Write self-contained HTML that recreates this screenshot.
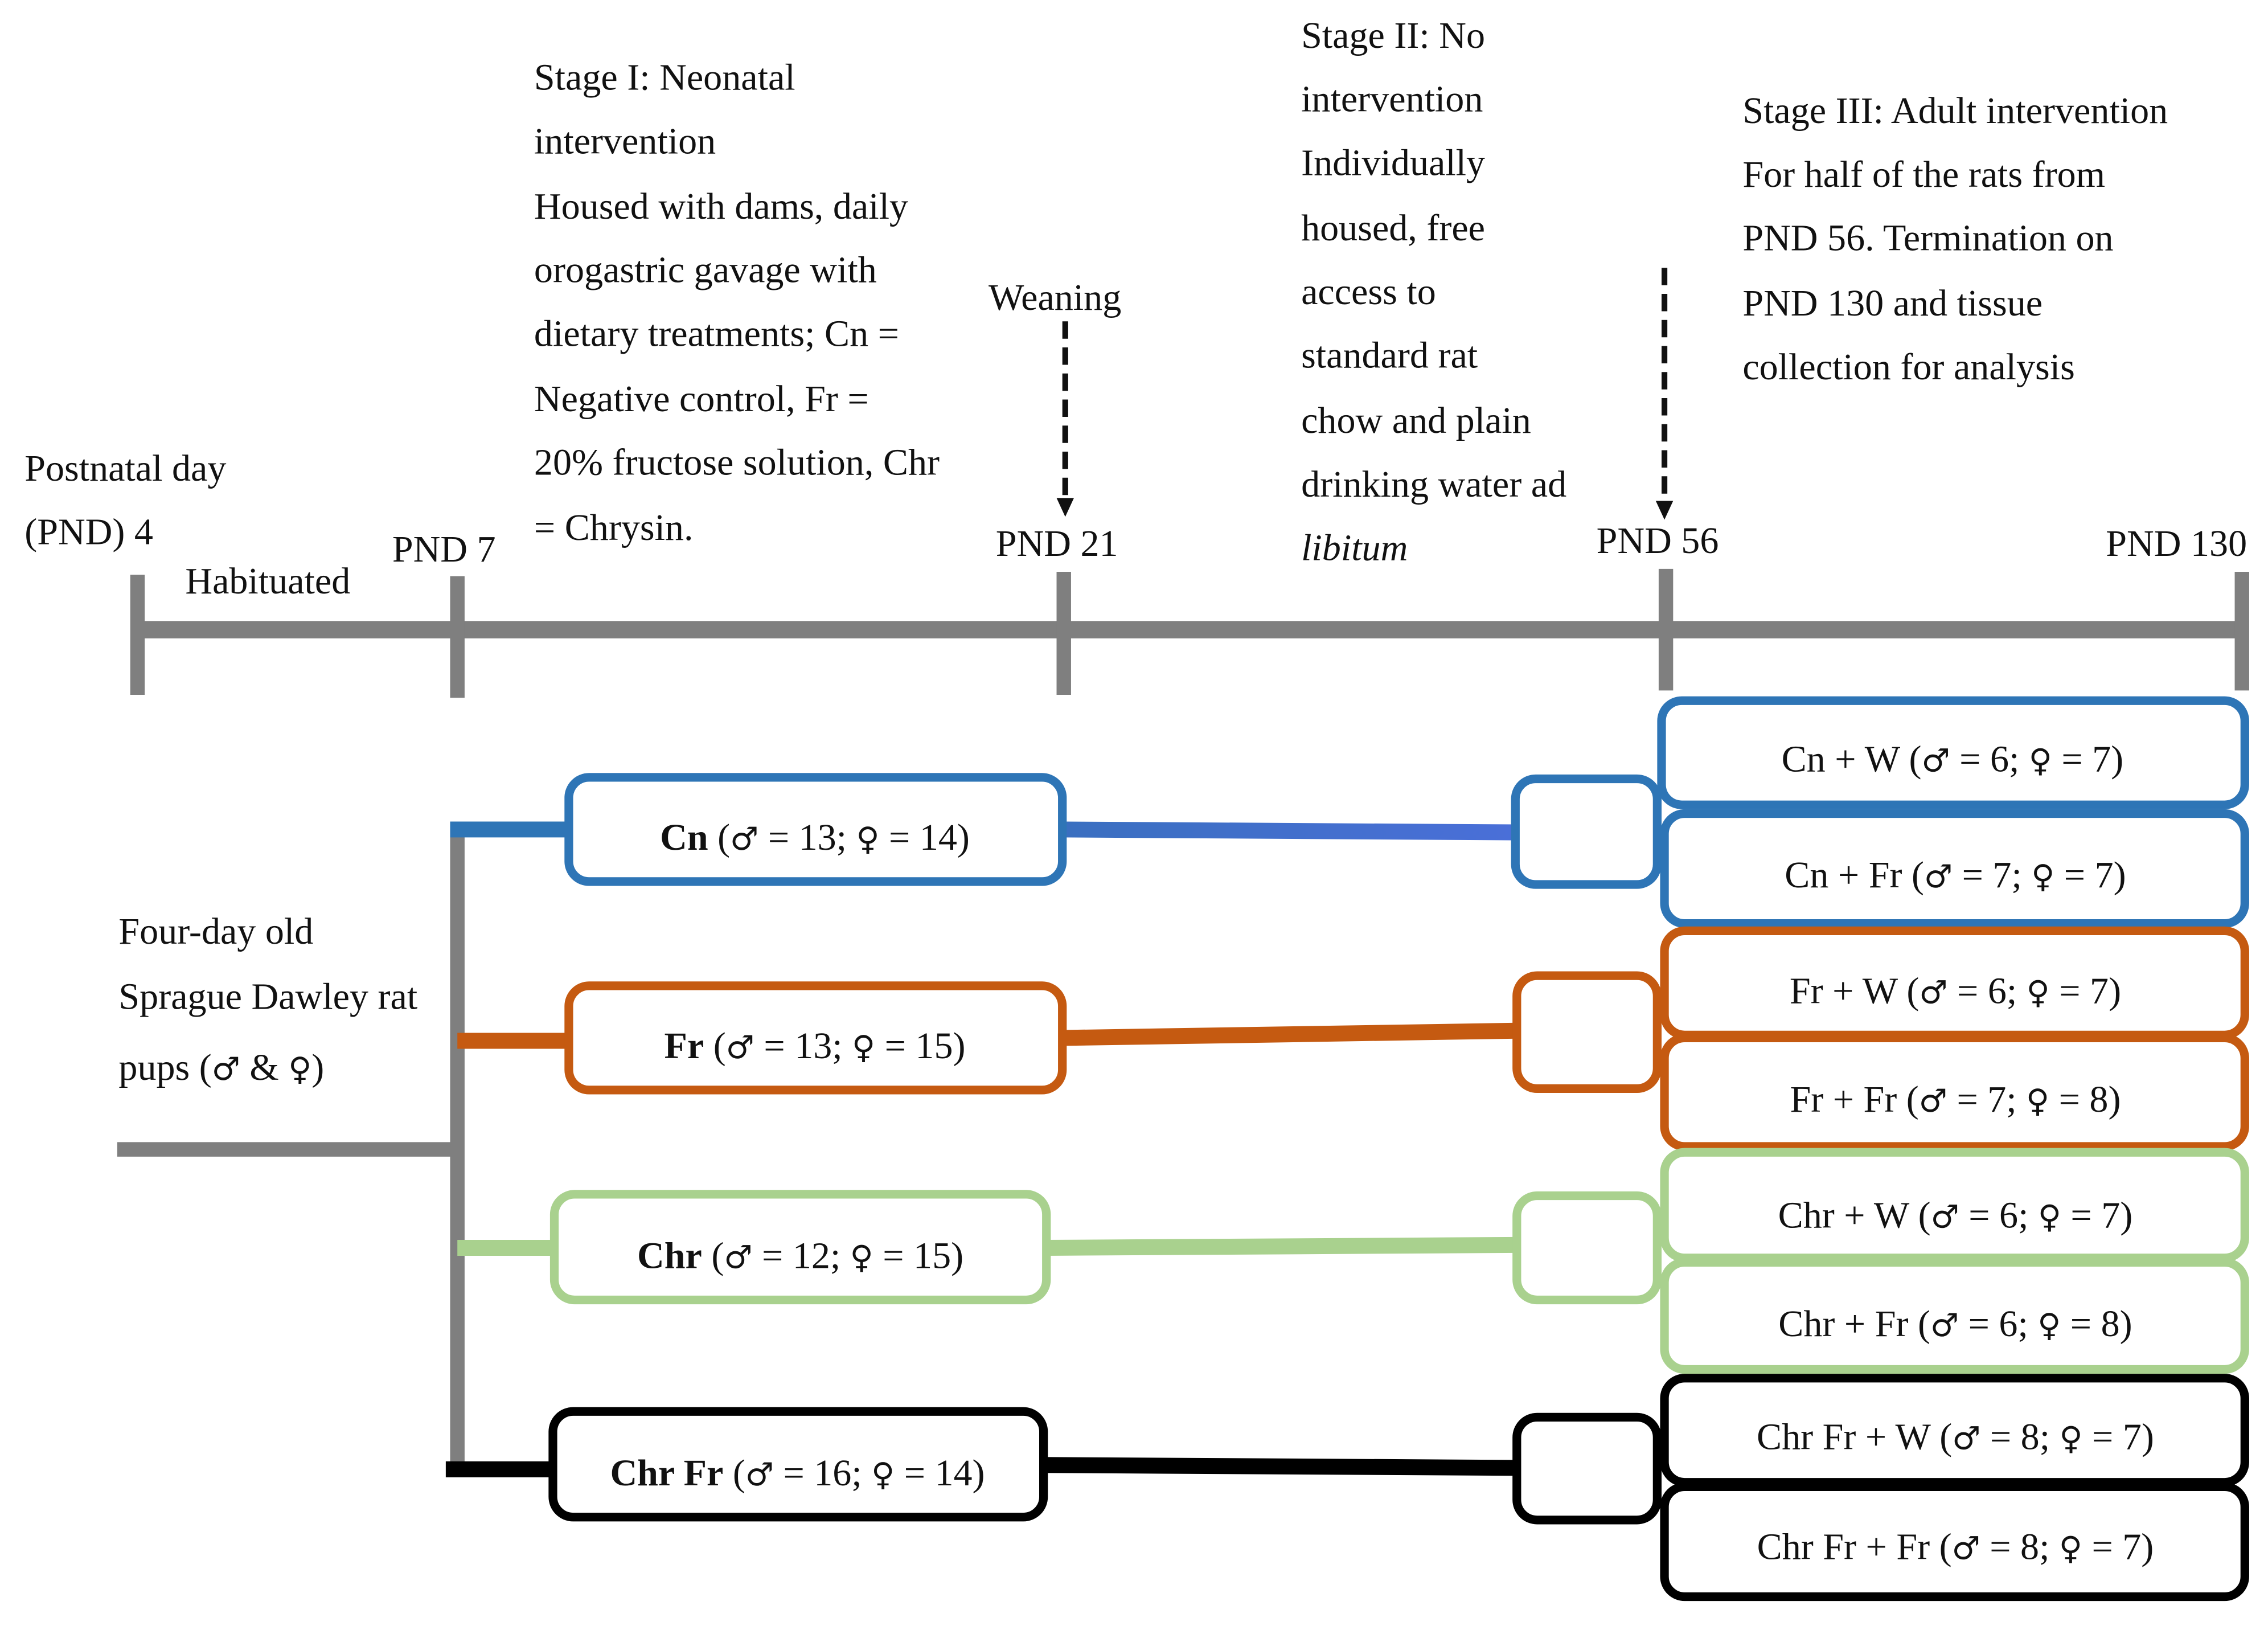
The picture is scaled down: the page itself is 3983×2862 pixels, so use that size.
<!DOCTYPE html>
<html><head><meta charset="utf-8"><style>
html,body{margin:0;padding:0;background:#fff;}
svg{display:block;}
text{font-family:"Liberation Serif","DejaVu Serif",serif;fill:#111;}
.g{font-family:"DejaVu Sans",sans-serif;font-size:22px;}
</style></head><body>
<svg width="3983" height="2862" viewBox="0 0 1567 1126" preserveAspectRatio="none" xmlns="http://www.w3.org/2000/svg">
<defs>
<linearGradient id="bg" x1="0" x2="1" y1="0" y2="0"><stop offset="0" stop-color="#3a6fc0"/><stop offset="1" stop-color="#4a6fd8"/></linearGradient>
</defs>
<!-- timeline -->
<g stroke="#7f7f7f" fill="none">
<line x1="95" y1="435" x2="1549" y2="435" stroke-width="12"/>
<line x1="95" y1="397" x2="95" y2="480" stroke-width="10"/>
<line x1="316" y1="398" x2="316" y2="482" stroke-width="10"/>
<line x1="735" y1="395" x2="735" y2="480" stroke-width="10"/>
<line x1="1151" y1="393" x2="1151" y2="477" stroke-width="10"/>
<line x1="1549" y1="395" x2="1549" y2="477" stroke-width="10"/>
<line x1="81" y1="794" x2="316" y2="794" stroke-width="10"/>
<line x1="316" y1="573" x2="316" y2="1015" stroke-width="10"/>
</g>
<g font-size="26">
<text x="17" y="332">Postnatal day</text>
<text x="17" y="376">(PND) 4</text>
<text x="128" y="410">Habituated</text>
<text x="271" y="388">PND 7</text>
<text x="688" y="384">PND 21</text>
<text x="1103" y="382">PND 56</text>
<text x="1455" y="384">PND 130</text>
<text x="683" y="214">Weaning</text>
<text x="369" y="62">Stage I: Neonatal</text>
<text x="369" y="106">intervention</text>
<text x="369" y="151">Housed with dams, daily</text>
<text x="369" y="195">orogastric gavage with</text>
<text x="369" y="239">dietary treatments; Cn =</text>
<text x="369" y="284">Negative control, Fr =</text>
<text x="369" y="328">20% fructose solution, Chr</text>
<text x="369" y="373">= Chrysin.</text>
<text x="899" y="33">Stage II: No</text>
<text x="899" y="77">intervention</text>
<text x="899" y="121">Individually</text>
<text x="899" y="166">housed, free</text>
<text x="899" y="210">access to</text>
<text x="899" y="254">standard rat</text>
<text x="899" y="299">chow and plain</text>
<text x="899" y="343">drinking water ad</text>
<text x="899" y="387" font-style="italic">libitum</text>
<text x="1204" y="85">Stage III: Adult intervention</text>
<text x="1204" y="129">For half of the rats from</text>
<text x="1204" y="173">PND 56. Termination on</text>
<text x="1204" y="218">PND 130 and tissue</text>
<text x="1204" y="262">collection for analysis</text>
<text x="82" y="652">Four-day old</text>
<text x="82" y="697">Sprague Dawley rat</text>
<text x="82" y="746">pups (<tspan class="g">♂</tspan> &amp; <tspan class="g">♀</tspan>)</text>
</g>
<g stroke="#111" stroke-width="4" stroke-dasharray="12,6" fill="none">
<line x1="736" y1="222" x2="736" y2="345"/>
<line x1="1150" y1="185" x2="1150" y2="347"/>
</g>
<path d="M730,344 L742,344 L736,357 z" fill="#111"/>
<path d="M1144,346 L1156,346 L1150,359 z" fill="#111"/>
<!-- branches -->
<g fill="none" stroke-width="11">
<line x1="311" y1="573" x2="393" y2="573" stroke="#2e75b6"/>
<line x1="316" y1="719" x2="393" y2="719" stroke="#c55a11"/>
<line x1="316" y1="862" x2="383" y2="862" stroke="#a9d18e"/>
<line x1="308" y1="1015" x2="382" y2="1015" stroke="#000"/>
<line x1="734" y1="573" x2="1047" y2="575" stroke="url(#bg)"/>
<line x1="734" y1="717" x2="1048" y2="712" stroke="#c55a11"/>
<line x1="723" y1="862" x2="1048" y2="860" stroke="#a9d18e"/>
<line x1="721" y1="1012" x2="1048" y2="1014" stroke="#000"/>
</g>
<g fill="#fff" stroke-width="6">
<rect x="393" y="537" width="341" height="72" rx="14" stroke="#2e75b6"/>
<rect x="393" y="681" width="341" height="72" rx="14" stroke="#c55a11"/>
<rect x="383" y="825" width="340" height="73" rx="14" stroke="#a9d18e"/>
<rect x="382" y="975" width="339" height="73" rx="14" stroke="#000"/>
<rect x="1047" y="538" width="98" height="73" rx="14" stroke="#2e75b6"/>
<rect x="1048" y="674" width="97" height="78" rx="14" stroke="#c55a11"/>
<rect x="1048" y="826" width="97" height="72" rx="14" stroke="#a9d18e"/>
<rect x="1048" y="979" width="97" height="71" rx="14" stroke="#000"/>
<rect x="1148" y="484" width="403" height="72" rx="14" stroke="#2e75b6"/>
<rect x="1150" y="562" width="401" height="76" rx="14" stroke="#2e75b6"/>
<rect x="1150" y="643" width="401" height="72" rx="14" stroke="#c55a11"/>
<rect x="1150" y="717" width="401" height="75" rx="14" stroke="#c55a11"/>
<rect x="1150" y="796" width="401" height="73" rx="14" stroke="#a9d18e"/>
<rect x="1150" y="872" width="401" height="74" rx="14" stroke="#a9d18e"/>
<rect x="1150" y="952" width="401" height="72" rx="14" stroke="#000"/>
<rect x="1150" y="1027" width="401" height="76" rx="14" stroke="#000"/>
</g>
<g font-size="26" text-anchor="middle">
<text x="563" y="587"><tspan font-weight="bold">Cn</tspan> (<tspan class="g">♂</tspan> = 13; <tspan class="g">♀</tspan> = 14)</text>
<text x="563" y="731"><tspan font-weight="bold">Fr</tspan> (<tspan class="g">♂</tspan> = 13; <tspan class="g">♀</tspan> = 15)</text>
<text x="553" y="876"><tspan font-weight="bold">Chr</tspan> (<tspan class="g">♂</tspan> = 12; <tspan class="g">♀</tspan> = 15)</text>
<text x="551" y="1026"><tspan font-weight="bold">Chr Fr</tspan> (<tspan class="g">♂</tspan> = 16; <tspan class="g">♀</tspan> = 14)</text>
<text x="1349" y="533">Cn + W (<tspan class="g">♂</tspan> = 6;  <tspan class="g">♀</tspan> = 7)</text>
<text x="1351" y="613">Cn + Fr (<tspan class="g">♂</tspan> = 7;  <tspan class="g">♀</tspan> = 7)</text>
<text x="1351" y="693">Fr + W (<tspan class="g">♂</tspan> = 6;  <tspan class="g">♀</tspan> = 7)</text>
<text x="1351" y="768">Fr + Fr (<tspan class="g">♂</tspan> = 7;  <tspan class="g">♀</tspan> = 8)</text>
<text x="1351" y="848">Chr + W (<tspan class="g">♂</tspan> = 6;  <tspan class="g">♀</tspan> = 7)</text>
<text x="1351" y="923">Chr + Fr (<tspan class="g">♂</tspan> = 6;  <tspan class="g">♀</tspan> = 8)</text>
<text x="1351" y="1001">Chr Fr + W (<tspan class="g">♂</tspan> = 8;  <tspan class="g">♀</tspan> = 7)</text>
<text x="1351" y="1077">Chr Fr + Fr (<tspan class="g">♂</tspan> = 8;  <tspan class="g">♀</tspan> = 7)</text>
</g>
</svg>
</body></html>
